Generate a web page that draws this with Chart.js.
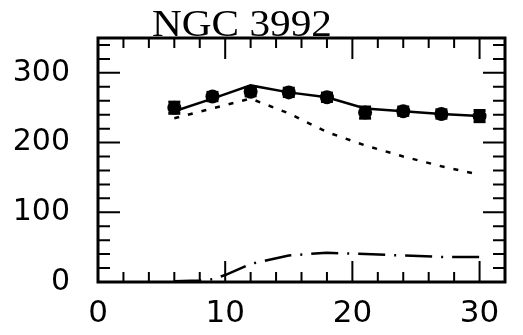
<!DOCTYPE html>
<html>
<head>
<meta charset="utf-8">
<script src="https://cdn.jsdelivr.net/npm/chart.js@4"></script>
<style>
	html, body { margin: 0; padding: 0; background: #fff; }
	#wrap { width: 523px; height: 335px; }
</style>
</head>
<body>
<div id="wrap"><canvas id="rc"></canvas></div>
<script>

// observed rotation curve (radius, velocity, error)
const rObs = [ 6, 9, 12, 15, 18, 21, 24, 27, 30 ];
const vObs = [ 250, 266, 273, 272, 265, 243, 245, 241, 238 ];
const eObs = [ 8, 6, 6, 6, 6, 8, 6, 6, 8 ];

// model curves
const rModel = [ 6, 9, 12, 15, 18, 21, 24, 27, 30 ];
const vTotal = [ 245, 263, 282, 272, 265, 249, 245, 241, 238 ];
const vDisk = [ 235, 249, 263, 242, 215, 196, 180, 166, 154 ];

const rGas = [ 6, 8, 9, 10, 12, 15, 18, 21, 24, 27, 30 ];
const vGas = [ 1, 2, 4, 10, 26, 38, 42, 40, 38, 36, 36 ];

// axes
const xTicks = [ 0, 10, 20, 30 ];
const yTicks = [ 0, 100, 200, 300 ];
const xMinor = 2;
const yMinor = 20;
const xMax = 32;
const yMax = 350;

const title = 'NGC 3992';

const pts = ( xs, ys ) => xs.map( ( x, i ) => ( { x: x, y: ys[i] } ) );

const framePlugin = {
	id: 'frame',
	afterDatasetsDraw( chart ) {
		const c = chart.ctx;
		const a = chart.chartArea;
		const sx = chart.scales.x;
		const sy = chart.scales.y;

		c.save();
		c.strokeStyle = '#000';
		c.lineCap = 'butt';

		// error bars
		c.lineWidth = 2;
		rObs.forEach( ( r, i ) => {
			const px = sx.getPixelForValue( r );
			const top = sy.getPixelForValue( vObs[i] + eObs[i] );
			const bot = sy.getPixelForValue( vObs[i] - eObs[i] );
			c.beginPath();
			c.moveTo( px, top ); c.lineTo( px, bot );
			c.stroke();
			c.fillStyle = '#000';
			c.fillRect( px - 6, top - 1.5, 12, 3 );
			c.fillRect( px - 6, bot - 1.5, 12, 3 );
		} );

		// ticks, inward on all four sides
		c.lineWidth = 2;
		for ( let v = 0; v <= xMax; v += xMinor ) {
			const px = sx.getPixelForValue( v );
			const len = xTicks.includes( v ) ? 21 : 10;
			c.beginPath();
			c.moveTo( px, a.bottom ); c.lineTo( px, a.bottom - len );
			c.moveTo( px, a.top ); c.lineTo( px, a.top + len );
			c.stroke();
		}
		for ( let v = 0; v <= yMax; v += yMinor ) {
			const py = sy.getPixelForValue( v );
			const len = yTicks.includes( v ) ? 22 : 12;
			c.beginPath();
			c.moveTo( a.left, py ); c.lineTo( a.left + len, py );
			c.moveTo( a.right, py ); c.lineTo( a.right - len, py );
			c.stroke();
		}

		// frame
		c.lineWidth = 3;
		c.strokeRect( a.left, a.top, a.right - a.left, a.bottom - a.top );

		// title, sits on the top edge
		c.font = '37px "Liberation Serif", "DejaVu Serif", serif';
		c.fillStyle = '#000';
		c.textBaseline = 'alphabetic';
		const w = c.measureText( title ).width;
		c.translate( 152, 36 );
		c.scale( 180 / w, 1 );
		c.fillText( title, 0, 0 );
		c.restore();
	}
};

const lineSet = ( data, dash ) => ( {
	data: data,
	showLine: true,
	borderColor: '#000',
	borderWidth: 2.5,
	borderDash: dash,
	pointRadius: 0,
	tension: 0,
	fill: false
} );

new Chart( 'rc', {
	type: 'scatter',
	data: {
		datasets: [
			lineSet( pts( rModel, vTotal ), [] ),
			lineSet( pts( rModel, vDisk ), [ 5, 9 ] ),
			lineSet( pts( rGas, vGas ), [ 27, 9, 2, 9 ] ),
			{
				data: pts( rObs, vObs ),
				showLine: false,
				pointStyle: 'circle',
				pointRadius: 7,
				pointBackgroundColor: '#000',
				pointBorderWidth: 0
			}
		]
	},
	options: {
		responsive: true,
		maintainAspectRatio: false,
		animation: false,
		layout: {
			padding: { left: 0, right: 18, top: 38, bottom: 0 }
		},
		plugins: {
			legend: { display: false },
			tooltip: { enabled: false }
		},
		scales: {
			x: {
				type: 'linear',
				min: 0,
				max: xMax,
				grid: { display: false },
				border: { display: false },
				afterBuildTicks: s => { s.ticks = xTicks.map( v => ( { value: v } ) ); },
				afterFit: s => { s.height = 53; },
				ticks: {
					color: '#000',
					padding: 5,
					maxRotation: 0,
					autoSkip: false,
					font: { family: '"DejaVu Sans", sans-serif', size: 31 }
				}
			},
			y: {
				type: 'linear',
				min: 0,
				max: yMax,
				grid: { display: false },
				border: { display: false },
				afterBuildTicks: s => { s.ticks = yTicks.map( v => ( { value: v } ) ); },
				afterFit: s => { s.width = 98; },
				ticks: {
					color: '#000',
					padding: 20,
					autoSkip: false,
					font: { family: '"DejaVu Sans", sans-serif', size: 30 }
				}
			}
		}
	},
	plugins: [ framePlugin ]
} );

</script>
</body>
</html>
